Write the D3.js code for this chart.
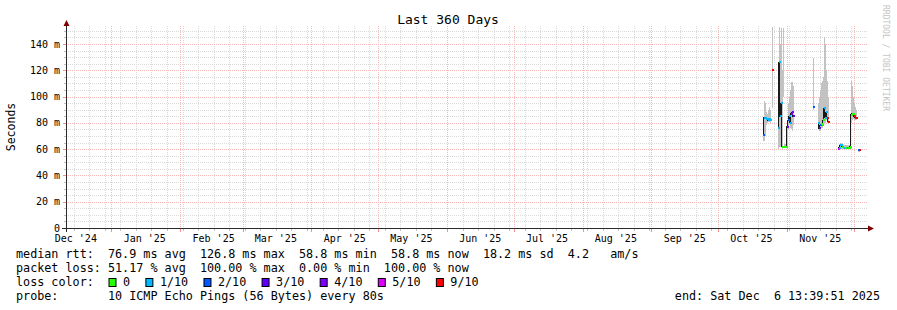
<!DOCTYPE html>
<html>
<head>
<meta charset="utf-8">
<script src="https://cdn.jsdelivr.net/npm/d3@7"></script>
<style>
html, body { margin: 0; padding: 0; background: #fff; }
text { font-family: "DejaVu Sans Mono", monospace; white-space: pre; }
</style>
</head>
<body>
<div id="vis"></div>
<script>
// graph period
const endTime = "2025-12-06T13:39:51Z"
const rangeDays = 360

const yTicks = [0, 20, 40, 60, 80, 100, 120, 140]
const monthLabels = ["Dec '24", "Jan '25", "Feb '25", "Mar '25", "Apr '25", "May '25",
                     "Jun '25", "Jul '25", "Aug '25", "Sep '25", "Oct '25", "Nov '25"]

const lossLabels = ["0", "1/10", "2/10", "3/10", "4/10", "5/10", "9/10"]
const lossColors = ["#26ff00", "#00b8ff", "#0059ff", "#5e00ff", "#7e00ff", "#dd00ff", "#ff0000"]

// one entry per consolidated step, null median = no data (gap)
const sampleTimes = [
  "2025-10-21T05:00", "2025-10-21T16:00", "2025-10-22T03:00", "2025-10-22T14:00", "2025-10-23T00:00",
  "2025-10-23T11:00", "2025-10-23T22:00", "2025-10-24T09:00", "2025-10-24T20:00",
  "2025-10-25T06:00", "2025-10-25T17:00",
  "2025-10-27T23:00", "2025-10-28T10:00", "2025-10-28T21:00", "2025-10-29T08:00", "2025-10-29T18:00",
  "2025-10-30T05:00", "2025-10-30T16:00", "2025-10-31T03:00", "2025-10-31T14:00", "2025-11-01T00:00",
  "2025-11-01T11:00", "2025-11-01T22:00", "2025-11-02T09:00", "2025-11-02T20:00", "2025-11-03T06:00",
  "2025-11-03T17:00", "2025-11-04T04:00",
  "2025-11-12T15:00", "2025-11-13T02:00",
  "2025-11-14T21:00", "2025-11-15T08:00", "2025-11-15T18:00", "2025-11-16T05:00", "2025-11-16T16:00",
  "2025-11-17T03:00", "2025-11-17T14:00", "2025-11-18T00:00", "2025-11-18T11:00", "2025-11-18T22:00",
  "2025-11-19T09:00", "2025-11-19T20:00",
  "2025-11-23T21:00", "2025-11-24T08:00", "2025-11-24T18:00", "2025-11-25T05:00", "2025-11-25T16:00",
  "2025-11-26T03:00", "2025-11-26T14:00", "2025-11-27T00:00", "2025-11-27T11:00", "2025-11-27T22:00",
  "2025-11-28T09:00", "2025-11-28T20:00", "2025-11-29T06:00", "2025-11-29T17:00", "2025-11-30T04:00",
  "2025-11-30T15:00", "2025-12-01T02:00", "2025-12-01T12:00", "2025-12-01T23:00", "2025-12-02T10:00",
  "2025-12-02T21:00", "2025-12-03T08:00", "2025-12-03T19:00"
]
const medianRtt = [
  71, 84, 84, 83, 83, 82, 83, 82, null,
  120, null,
  76, 126, 85, 95, 62, 62, 62, 62, 62, 77, 82, 85, 80, 87, 88, 85, null,
  92, null,
  80, 76, 78, 79, 78, 82, 91, 84, 88, 84, 81, null,
  60, 61, 63, 63, 62, 61, 61, 61, 61, 61, 61, 61, 62, 86, 87, 87, 85, 84, 84, null,
  59, 59, null
]
const lossIndex = [
  2, 1, 1, 1, 1, 1, 1, 1, 0,
  6, 0,
  1, 1, 1, 1, 0, 0, 0, 0, 0, 4, 2, 1, 1, 4, 4, 3, 0,
  2, 0,
  1, 3, 2, 0, 0, 0, 1, 1, 1, 6, 6, 0,
  5, 1, 1, 1, 0, 0, 1, 0, 0, 1, 0, 0, 0, 0, 0, 0, 6, 6, 6, 0,
  2, 6, 0
]
const smokeLow = [
  66, 66, 70, 78, 80, 81, 81, 80, null,
  91, null,
  60, 62, 62, 87, 60, 100, 61, 61, 61, 62, 75, 78, 76, 75, 74, 78, null,
  90, null,
  75, 74, 74, 76, 76, 78, 80, 80, 82, 80, 79, null,
  59, 60, 60, 60, 60, 60, 60, 60, 60, 60, 60, 60, 60, 80, 82, 83, 82, 82, 82, null,
  58, 58, null
]
const smokeHigh = [
  78, 97, 95, 88, 87, 90, 92, 90, null,
  153, null,
  100, 153, 140, 152, 120, 152, 64, 64, 64, 80, 95, 100, 105, 111, 111, 108, null,
  129, null,
  95, 100, 105, 110, 112, 115, 145, 140, 120, 112, 100, null,
  62, 64, 65, 65, 64, 63, 63, 63, 63, 63, 63, 63, 65, 112, 108, 100, 95, 92, 90, null,
  60, 60, null
]

const statsRows = [
  "median rtt:  76.9 ms avg  126.8 ms max  58.8 ms min  58.8 ms now  18.2 ms sd  4.2   am/s",
  "packet loss: 51.17 % avg  100.00 % max  0.00 % min  100.00 % now"
]
const probeText = "probe:       10 ICMP Echo Pings (56 Bytes) every 80s"
const endText = "end: Sat Dec  6 13:39:51 2025"

// ---- layout
const W = 897, H = 310
const plot = { left: 66, right: 866, top: 26, bottom: 228 }

const svg = d3.select("#vis").append("svg")
  .attr("width", W).attr("height", H)
  .style("display", "block")
  .style("background", "#ffffff")

const tEnd = new Date(endTime)
const tStart = d3.utcDay.offset(tEnd, -rangeDays)

const x = d3.scaleUtc().domain([tStart, tEnd]).range([plot.left, plot.right])
const y = d3.scaleLinear().domain([0, 153.7]).range([plot.bottom, plot.top])

const rows = sampleTimes.map((t, i) => ({
  t: new Date(t + "Z"),
  med: medianRtt[i],
  loss: lossIndex[i],
  lo: smokeLow[i],
  hi: smokeHigh[i]
}))

const grid = svg.append("g").attr("shape-rendering", "crispEdges")
const minorColor = "#dadada", majorColor = "#f8b8b8"

// minor grid: every 5 m, every week (sunday)
const minorY = d3.range(5, 155, 5).filter(v => v % 20 !== 0)
grid.selectAll(".hminor").data(minorY).enter().append("line")
  .attr("x1", plot.left).attr("x2", plot.right + 2)
  .attr("y1", d => Math.round(y(d)) + 0.5).attr("y2", d => Math.round(y(d)) + 0.5)
  .attr("stroke", minorColor).attr("stroke-dasharray", "1,1")

const weeks = d3.utcSunday.range(tStart, tEnd)
grid.selectAll(".vminor").data(weeks).enter().append("line")
  .attr("x1", d => Math.round(x(d)) + 0.5).attr("x2", d => Math.round(x(d)) + 0.5)
  .attr("y1", plot.top).attr("y2", plot.bottom)
  .attr("stroke", minorColor).attr("stroke-dasharray", "1,1")

// major grid: 20 m, month starts
const majorY = yTicks.filter(v => v > 0)
grid.selectAll(".hmajor").data(majorY).enter().append("line")
  .attr("x1", plot.left).attr("x2", plot.right + 2)
  .attr("y1", d => Math.round(y(d)) + 0.5).attr("y2", d => Math.round(y(d)) + 0.5)
  .attr("stroke", majorColor).attr("stroke-dasharray", "1,1")

const months = d3.utcMonth.range(d3.utcMonth.ceil(tStart), tEnd)
grid.selectAll(".vmajor").data(months).enter().append("line")
  .attr("x1", d => Math.round(x(d)) + 0.5).attr("x2", d => Math.round(x(d)) + 0.5)
  .attr("y1", plot.top).attr("y2", plot.bottom)
  .attr("stroke", majorColor).attr("stroke-dasharray", "1,1")

// smoke
const dataG = svg.append("g").attr("shape-rendering", "crispEdges")
dataG.selectAll(".smoke").data(rows.filter(d => d.hi != null)).enter().append("rect")
  .attr("x", d => Math.round(x(d.t)))
  .attr("width", 1)
  .attr("y", d => y(d.hi))
  .attr("height", d => y(d.lo) - y(d.hi))
  .attr("fill", "#c2c2c2")

// median line (dark connecting steps)
const line = d3.line()
  .defined(d => d.med != null)
  .x(d => Math.round(x(d.t)) + 0.5)
  .y(d => y(d.med))
  .curve(d3.curveStepBefore)
dataG.append("path").datum(rows)
  .attr("d", line)
  .attr("fill", "none")
  .attr("stroke", "#1a1a1a")
  .attr("stroke-width", 1)

// median coloured by loss
dataG.selectAll(".med").data(rows.filter(d => d.med != null)).enter().append("rect")
  .attr("x", d => Math.round(x(d.t)))
  .attr("width", 2)
  .attr("y", d => Math.round(y(d.med)) - 1)
  .attr("height", 2)
  .attr("fill", d => lossColors[d.loss])

// axes
const axis = svg.append("g").attr("shape-rendering", "crispEdges")
axis.append("line")
  .attr("x1", plot.left - 4).attr("x2", plot.right + 3)
  .attr("y1", plot.bottom + 0.5).attr("y2", plot.bottom + 0.5)
  .attr("stroke", "#2a2a2a")
axis.append("line")
  .attr("x1", plot.left + 0.5).attr("x2", plot.left + 0.5)
  .attr("y1", plot.top - 1).attr("y2", plot.bottom + 4)
  .attr("stroke", "#2a2a2a")

// ticks on axes
axis.selectAll(".xtminor").data(weeks).enter().append("line")
  .attr("x1", d => Math.round(x(d)) + 0.5).attr("x2", d => Math.round(x(d)) + 0.5)
  .attr("y1", plot.bottom + 1).attr("y2", plot.bottom + 3)
  .attr("stroke", "#c0c0c0")
axis.selectAll(".xtmajor").data(months).enter().append("line")
  .attr("x1", d => Math.round(x(d)) + 0.5).attr("x2", d => Math.round(x(d)) + 0.5)
  .attr("y1", plot.bottom + 1).attr("y2", plot.bottom + 4)
  .attr("stroke", "#f09090")
axis.selectAll(".ytminor").data(minorY).enter().append("line")
  .attr("x1", plot.left - 2).attr("x2", plot.left)
  .attr("y1", d => Math.round(y(d)) + 0.5).attr("y2", d => Math.round(y(d)) + 0.5)
  .attr("stroke", "#c0c0c0")
axis.selectAll(".ytmajor").data(majorY).enter().append("line")
  .attr("x1", plot.left - 3).attr("x2", plot.left)
  .attr("y1", d => Math.round(y(d)) + 0.5).attr("y2", d => Math.round(y(d)) + 0.5)
  .attr("stroke", "#f09090")

// arrows
svg.append("path")
  .attr("d", `M${plot.left + 0.5},${plot.top - 6} L${plot.left - 2.5},${plot.top} L${plot.left + 3.5},${plot.top} Z`)
  .attr("fill", "#7f0000")
svg.append("path")
  .attr("d", `M${plot.right + 8},${plot.bottom + 0.5} L${plot.right + 2},${plot.bottom - 2.5} L${plot.right + 2},${plot.bottom + 3.5} Z`)
  .attr("fill", "#7f0000")

// y labels
svg.append("g").selectAll("text").data(yTicks).enter().append("text")
  .attr("x", 60).attr("y", d => y(d) + 3.5)
  .attr("text-anchor", "end")
  .attr("font-size", "10px")
  .attr("fill", "#000")
  .text(d => d === 0 ? "0" : d + " m")

// month labels centered mid month
svg.append("g").selectAll("text").data(monthLabels).enter().append("text")
  .attr("x", (d, i) => x(d3.utcDay.offset(d3.utcMonth.offset(d3.utcMonth.floor(tStart), i), 15)))
  .attr("y", 241.5)
  .attr("text-anchor", "middle")
  .attr("font-size", "10px")
  .attr("fill", "#000")
  .text(d => d)

// title
svg.append("text")
  .attr("x", 448).attr("y", 24)
  .attr("text-anchor", "middle")
  .attr("font-size", "13px")
  .attr("fill", "#000")
  .text("Last 360 Days")

// vertical label
svg.append("text")
  .attr("transform", "translate(15,127) rotate(-90)")
  .attr("text-anchor", "middle")
  .attr("font-size", "11.5px")
  .attr("fill", "#000")
  .text("Seconds")

// watermark
svg.append("text")
  .attr("transform", "translate(883,5) rotate(90)")
  .attr("font-size", "8px")
  .attr("fill", "#c4c4c4")
  .text("RRDTOOL / TOBI OETIKER")

// legend
const legendFont = "11.75px"
svg.append("g").selectAll("text").data(statsRows).enter().append("text")
  .attr("x", 16).attr("y", (d, i) => 258 + i * 14)
  .attr("font-size", legendFont)
  .attr("fill", "#000")
  .text(d => d)

svg.append("text")
  .attr("x", 16).attr("y", 286)
  .attr("font-size", legendFont)
  .attr("fill", "#000")
  .text("loss color:")

let bx = 108.5
lossLabels.forEach((lab, i) => {
  svg.append("rect")
    .attr("x", bx + 0.5).attr("y", 278.5)
    .attr("width", 7).attr("height", 8)
    .attr("fill", lossColors[i])
    .attr("stroke", "#000")
    .attr("stroke-width", 1)
  const t = svg.append("text")
    .attr("x", bx + 14.5).attr("y", 286)
    .attr("font-size", legendFont)
    .attr("fill", "#000")
    .text(lab)
  bx = bx + 14.5 + t.node().getComputedTextLength() + 15.3
})

svg.append("text")
  .attr("x", 16).attr("y", 300)
  .attr("font-size", legendFont)
  .attr("fill", "#000")
  .text(probeText)

svg.append("text")
  .attr("x", 880).attr("y", 300)
  .attr("text-anchor", "end")
  .attr("font-size", legendFont)
  .attr("fill", "#000")
  .text(endText)
</script>
</body>
</html>
